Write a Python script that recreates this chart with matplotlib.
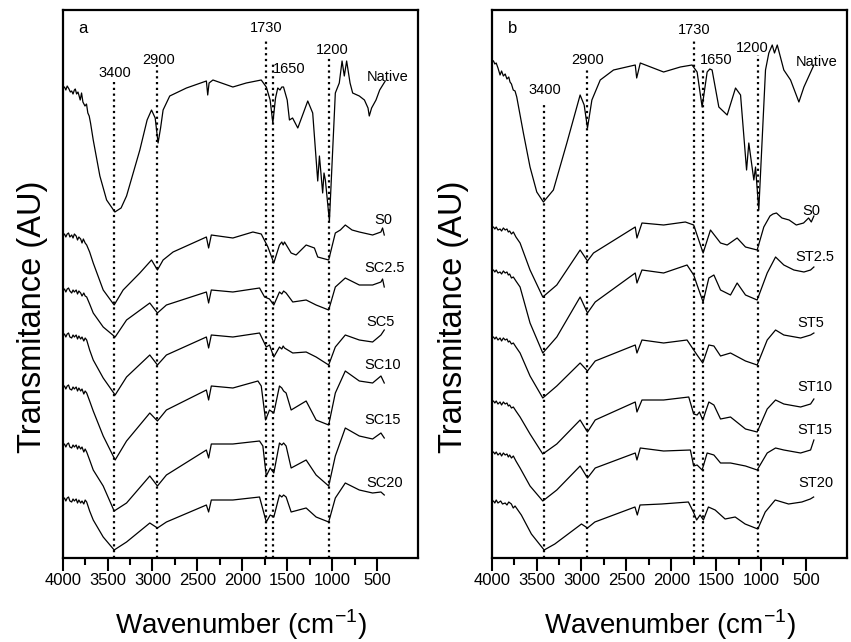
import matplotlib
matplotlib.use("Agg")
import matplotlib.pyplot as plt
import numpy as np
from matplotlib.ticker import FixedLocator

plt.rcParams['font.family'] = ['Liberation Sans', 'DejaVu Sans']

# spectra: (wavenumber, transmittance relative to the 4000 cm-1 start, AU)
a_native = [(4000, 0), (3980, 1), (3965, -2), (3950, 2), (3930, -1), (3915, -4), (3900, -3), (3885, -6),
            (3870, -2), (3860, -1), (3845, -6), (3830, -4), (3820, -7), (3805, -12), (3790, -5), (3775, -14),
            (3752, -18), (3735, -16), (3720, -25), (3705, -28), (3690, -35), (3660, -52), (3586, -88),
            (3511, -112), (3419, -124), (3350, -120), (3289, -108), (3141, -62), (3060, -32), (3011, -22),
            (2970, -30), (2938, -55), (2910, -40), (2882, -22), (2808, -8), (2622, 0), (2400, 7), (2385, -7),
            (2370, 5), (2327, 8), (2105, 1), (1956, 5), (1789, 8), (1733, 1), (1690, -12), (1660, -35),
            (1630, -10), (1605, 0), (1580, -2), (1560, 1), (1541, 1), (1500, -12), (1475, -32), (1440, -30),
            (1382, -40), (1320, -25), (1271, -13), (1216, -25), (1160, -93), (1141, -68), (1105, -105),
            (1090, -85), (1075, -92), (1030, -133), (964, -5), (920, 5), (889, 27), (864, 12), (838, 27),
            (800, 5), (771, -5), (697, -8), (640, -12), (600, -20), (586, -28), (560, -20), (511, -12),
            (470, -2), (408, 7)]
a_s0 = [(4000, 0), (3980, 2), (3965, -1), (3950, 2), (3935, 3), (3920, -1), (3900, 1), (3885, -2),
        (3870, 2), (3850, 0), (3835, -4), (3820, -1), (3800, -3), (3785, -7), (3770, -3), (3750, -7),
        (3733, -9), (3700, -16), (3660, -27), (3549, -54), (3427, -69), (3327, -54), (3141, -37),
        (3011, -24), (2945, -34), (2882, -24), (2771, -16), (2400, -1), (2375, -12), (2345, 1), (2105, -2),
        (1882, 4), (1789, 2), (1715, -11), (1649, -27), (1586, -9), (1560, -6), (1545, -9), (1530, -6),
        (1456, -17), (1401, -19), (1289, -9), (1197, -12), (1160, -21), (1038, -24), (964, 3), (908, 6),
        (853, 11), (778, 6), (697, 4), (549, 1), (456, 4), (438, 8), (419, 1)]
a_sc25 = [(4000, 0), (3980, 2), (3965, -1), (3950, 2), (3935, 3), (3920, 0), (3900, -2), (3885, 1),
          (3870, -1), (3850, 1), (3835, -3), (3820, 0), (3800, -2), (3785, -5), (3765, -2), (3750, -5),
          (3733, -6), (3700, -13), (3660, -22), (3549, -36), (3416, -46), (3289, -29), (3030, -12),
          (2945, -22), (2845, -14), (2400, -1), (2375, -12), (2345, 1), (2105, -1), (1808, 3), (1752, -6),
          (1697, -8), (1649, -14), (1586, -1), (1560, -3), (1540, 0), (1512, -2), (1438, -11), (1289, -9),
          (1178, -14), (1038, -19), (964, 4), (853, 13), (697, 6), (549, 6), (456, 9), (438, 12), (419, 4)]
a_sc5 = [(4000, 0), (3980, 2), (3965, -1), (3950, 2), (3935, 3), (3920, -1), (3900, -2), (3885, 1),
         (3870, -1), (3850, 1), (3835, -3), (3820, 0), (3800, -3), (3785, -1), (3765, -5), (3750, -2),
         (3733, -4), (3700, -14), (3660, -24), (3549, -42), (3416, -59), (3289, -41), (3030, -19),
         (2945, -29), (2845, -19), (2400, -1), (2375, -12), (2345, 1), (2105, -1), (1808, 3), (1733, -11),
         (1697, -9), (1649, -21), (1586, -11), (1560, -13), (1545, -10), (1530, -12), (1438, -17),
         (1289, -16), (1178, -21), (1038, -29), (964, -11), (853, 1), (697, -4), (549, -6), (456, 1),
         (419, 6)]
a_sc10 = [(4000, 0), (3980, 2), (3965, -1), (3950, 2), (3935, 3), (3920, -1), (3900, -2), (3885, 1),
          (3870, -1), (3850, 1), (3835, -3), (3820, 0), (3800, -3), (3785, -1), (3765, -6), (3750, -3),
          (3733, -5), (3700, -13), (3660, -23), (3549, -48), (3416, -72), (3289, -53), (3030, -25),
          (2945, -33), (2845, -22), (2400, -2), (2375, -12), (2345, 2), (2105, 0), (1826, 7), (1789, 2),
          (1741, -32), (1697, -22), (1649, -25), (1586, 2), (1560, 0), (1540, -3), (1512, -5), (1456, -22),
          (1289, -13), (1178, -32), (1038, -37), (964, -5), (853, 17), (697, 7), (549, 5), (456, 12),
          (419, 5)]
a_sc15 = [(4000, 0), (3980, 2), (3965, -1), (3950, 2), (3935, 3), (3920, -1), (3900, -2), (3885, 1),
          (3870, -1), (3850, 1), (3835, -3), (3820, 0), (3800, -3), (3785, -1), (3765, -6), (3750, -3),
          (3733, -6), (3700, -14), (3660, -24), (3549, -40), (3427, -65), (3289, -57), (3030, -30),
          (2945, -40), (2845, -29), (2400, -4), (2375, -12), (2345, 2), (2105, 2), (1808, 5), (1771, 0),
          (1733, -30), (1689, -22), (1649, -27), (1586, 3), (1560, 1), (1540, 3), (1512, 0), (1456, -22),
          (1289, -14), (1178, -29), (1038, -40), (964, -10), (853, 18), (697, 10), (549, 7), (456, 13),
          (419, 8)]
a_sc20 = [(4000, 0), (3980, 2), (3965, -1), (3950, 2), (3935, 3), (3920, -1), (3900, -2), (3885, 1),
          (3870, -1), (3850, 1), (3835, -3), (3820, 0), (3800, -3), (3785, -1), (3765, -4), (3750, 0),
          (3733, -2), (3700, -11), (3660, -20), (3549, -37), (3427, -50), (3289, -42), (3030, -23),
          (2945, -28), (2845, -22), (2400, -5), (2375, -12), (2345, 0), (2105, 0), (1808, 3), (1733, -22),
          (1689, -15), (1649, -17), (1586, 5), (1560, 3), (1540, 5), (1512, 3), (1456, -12), (1289, -8),
          (1178, -17), (1038, -22), (964, 2), (853, 17), (697, 10), (549, 7), (456, 8), (419, 5)]

b_native = [(4000, 0), (3980, -1), (3965, -4), (3950, -3), (3930, -8), (3907, -15), (3890, -11),
            (3870, -16), (3850, -14), (3830, -19), (3810, -17), (3796, -22), (3780, -24), (3760, -30),
            (3740, -31), (3721, -37), (3647, -73), (3573, -107), (3498, -132), (3424, -142), (3313, -130),
            (3163, -83), (3015, -35), (2970, -45), (2933, -68), (2884, -40), (2791, -20), (2643, -10),
            (2401, -5), (2385, -18), (2345, -3), (2085, -12), (1899, -7), (1768, -5), (1712, -12),
            (1656, -47), (1600, -12), (1570, -9), (1545, -10), (1470, -47), (1377, -55), (1284, -28),
            (1228, -35), (1161, -110), (1136, -83), (1080, -120), (1061, -107), (1025, -150), (950, -10),
            (913, 7), (875, 15), (850, 7), (819, 15), (746, -10), (671, -20), (578, -42), (522, -27),
            (411, -5)]
b_s0 = [(4000, 0), (3980, 1), (3965, -1), (3950, 1), (3930, -2), (3907, -1), (3890, -3), (3870, 0),
        (3850, -2), (3830, -1), (3815, -4), (3800, -3), (3780, -6), (3759, -4), (3730, -9), (3684, -15),
        (3573, -42), (3431, -69), (3275, -57), (3015, -22), (2933, -33), (2866, -25), (2401, 1), (2382, -10),
        (2326, 5), (2085, 3), (1843, 6), (1750, 3), (1645, -25), (1563, -2), (1451, -15), (1377, -17),
        (1266, -10), (1173, -19), (1043, -22), (969, 1), (900, 12), (867, 14), (828, 15), (767, 10),
        (687, 8), (607, 3), (526, 5), (470, 10), (440, 6), (411, 12)]
b_st25 = [(4000, 0), (3980, 1), (3965, -1), (3950, 1), (3930, -2), (3907, -1), (3890, -3), (3870, 0),
          (3850, -2), (3830, -1), (3815, -4), (3800, -3), (3780, -7), (3759, -6), (3730, -10), (3684, -16),
          (3573, -52), (3431, -82), (3275, -66), (3015, -26), (2933, -42), (2847, -31), (2401, -2),
          (2382, -12), (2326, 1), (2085, -2), (1824, 6), (1750, -4), (1712, -14), (1645, -31), (1581, -7),
          (1525, -4), (1451, -19), (1340, -24), (1266, -12), (1173, -24), (1043, -29), (931, -2), (838, 14),
          (746, 6), (634, 1), (522, -1), (448, 1), (411, 4)]
b_st5 = [(4000, 0), (3980, 1), (3965, -1), (3950, 1), (3930, -2), (3907, 0), (3890, -3), (3870, 0),
         (3850, -2), (3830, -1), (3815, -4), (3800, -3), (3780, -6), (3759, -5), (3730, -9), (3684, -15),
         (3573, -38), (3431, -60), (3275, -48), (3015, -25), (2933, -33), (2847, -23), (2401, -7),
         (2382, -15), (2326, -2), (2085, -5), (1824, -2), (1750, -12), (1712, -17), (1649, -25), (1581, -7),
         (1525, -8), (1451, -18), (1340, -15), (1173, -23), (1043, -27), (931, -2), (838, 8), (746, 3),
         (559, 0), (448, 3), (411, 5)]
b_st10 = [(4000, 0), (3980, 1), (3965, -1), (3950, 1), (3930, -2), (3907, 0), (3890, -3), (3870, 0),
          (3850, -2), (3830, -1), (3815, -4), (3800, -3), (3780, -6), (3759, -5), (3730, -9), (3684, -15),
          (3573, -32), (3431, -52), (3275, -42), (3015, -18), (2933, -30), (2847, -18), (2401, 0),
          (2382, -10), (2326, 2), (2085, 2), (1805, 5), (1750, -12), (1712, -13), (1686, -10), (1649, -18),
          (1581, 0), (1525, -3), (1451, -17), (1340, -15), (1173, -27), (1043, -30), (931, -7), (838, 2),
          (746, -2), (559, -5), (448, -2), (411, 3)]
b_st15 = [(4000, 0), (3980, 1), (3965, -1), (3950, 1), (3930, -2), (3907, 0), (3890, -3), (3870, 0),
          (3850, -2), (3830, -1), (3815, -4), (3800, -2), (3780, -5), (3759, -3), (3730, -8), (3684, -15),
          (3573, -33), (3431, -48), (3275, -37), (3015, -13), (2933, -25), (2847, -15), (2401, 0),
          (2382, -7), (2345, 5), (2085, 2), (1787, 3), (1750, -13), (1712, -12), (1656, -17), (1600, 0),
          (1525, -2), (1451, -10), (1340, -10), (1173, -13), (1043, -17), (931, 0), (838, 5), (746, 3),
          (559, 0), (448, 3), (411, 13)]
b_st20 = [(4000, 0), (3980, 1), (3965, -1), (3950, 2), (3930, -1), (3900, 1), (3880, -2), (3850, -1),
          (3830, -3), (3810, 0), (3781, -2), (3760, -6), (3740, -4), (3670, -13), (3558, -32), (3416, -48),
          (3297, -42), (3000, -22), (2933, -26), (2851, -20), (2404, -5), (2378, -13), (2348, -3),
          (2107, -2), (1809, 0), (1753, -10), (1717, -18), (1679, -13), (1642, -18), (1586, -5), (1511, -8),
          (1400, -17), (1288, -15), (1177, -22), (1036, -27), (953, -10), (842, 2), (693, -2), (545, 0),
          (451, 3), (414, 5)]

a_names = ['Native', 'S0', 'SC2.5', 'SC5', 'SC10', 'SC15', 'SC20']
b_names = ['Native', 'S0', 'ST2.5', 'ST5', 'ST10', 'ST15', 'ST20']
a_spectra = [a_native, a_s0, a_sc25, a_sc5, a_sc10, a_sc15, a_sc20]
b_spectra = [b_native, b_s0, b_st25, b_st5, b_st10, b_st15, b_st20]

# band markers (label, line position)
peak_labels = ['3400', '2900', '1730', '1650', '1200']
a_peak_wn = [3427, 2945, 1741, 1656, 1038]
b_peak_wn = [3416, 2933, 1746, 1642, 1036]

# layout (vertical shift of each trace, label spots)
a_offsets = [470, 322, 267, 222, 170, 112, 58]
b_offsets = [498, 330, 287, 220, 156, 105, 56]
a_name_pos = [(619, 481), (530, 338), (641, 290), (619, 236), (641, 193), (641, 138), (622, 75)]
b_name_pos = [(615, 496), (540, 347), (615, 301), (596, 235), (593, 171), (593, 128), (582, 75)]
a_peak_txt = [(3419, 485, 'center'), (2930, 498, 'center'), (1730, 530, 'center'),
              (1663, 489, 'left'), (1003, 508, 'center')]
b_peak_txt = [(3405, 468, 'center'), (2933, 498, 'center'), (1750, 528, 'center'),
              (1686, 498, 'left'), (1098, 510, 'center')]
a_line_top = [476, 493, 520, 494, 501]
b_line_top = [455, 491, 520, 491, 503]

fig = plt.figure(figsize=(8.51, 6.42), dpi=100)
ax_a = fig.add_axes([62.7 / 851, 1 - 558 / 642, 355.6 / 851, 548 / 642])
ax_b = fig.add_axes([491.7 / 851, 1 - 558 / 642, 355.5 / 851, 548 / 642])


def draw_panel(ax, letter, spectra, names, offsets, name_pos, peak_wn, peak_txt, line_top, ylab_x):
    for sp, off in zip(spectra, offsets):
        wn = np.array([p[0] for p in sp])
        t = np.array([p[1] for p in sp])
        ax.plot(wn, t + off, color='black', lw=0.9)
    for name, (x, y) in zip(names, name_pos):
        ax.text(x, y, name, fontsize=10.5, ha='left', va='center')
    for lab, wn, (tx, ty, ha), top in zip(peak_labels, peak_wn, peak_txt, line_top):
        ax.plot([wn, wn], [0, top], color='black', lw=1.6, linestyle=(0, (1, 1.6)))
        ax.text(tx, ty, lab, fontsize=10.5, ha=ha, va='center')
    ax.text(0.045, 0.966, letter, transform=ax.transAxes, fontsize=12, ha='left', va='center')
    ax.set_xlim(4000, 40)
    ax.set_ylim(0, 548)
    ax.set_yticks([])
    ax.set_xticks([4000, 3500, 3000, 2500, 2000, 1500, 1000, 500])
    ax.xaxis.set_minor_locator(FixedLocator([3750, 3250, 2750, 2250, 1750, 1250, 750]))
    ax.tick_params(axis='x', which='major', length=9, width=1.5, labelsize=12, pad=2)
    ax.tick_params(axis='x', which='minor', length=5, width=1.5)
    for s in ax.spines.values():
        s.set_linewidth(1.6)
    ax.set_xlabel('Wavenumber (cm$^{\\mathregular{-1}}$)', fontsize=20)
    ax.xaxis.set_label_coords(0.5, -0.09)
    ax.set_ylabel('Transmitance (AU)', fontsize=23.5)
    ax.yaxis.set_label_coords(ylab_x, 0.44)


draw_panel(ax_a, 'a', a_spectra, a_names, a_offsets, a_name_pos, a_peak_wn, a_peak_txt, a_line_top, -0.041)
draw_panel(ax_b, 'b', b_spectra, b_names, b_offsets, b_name_pos, b_peak_wn, b_peak_txt, b_line_top, -0.063)

fig.savefig('out.png', dpi=100)
